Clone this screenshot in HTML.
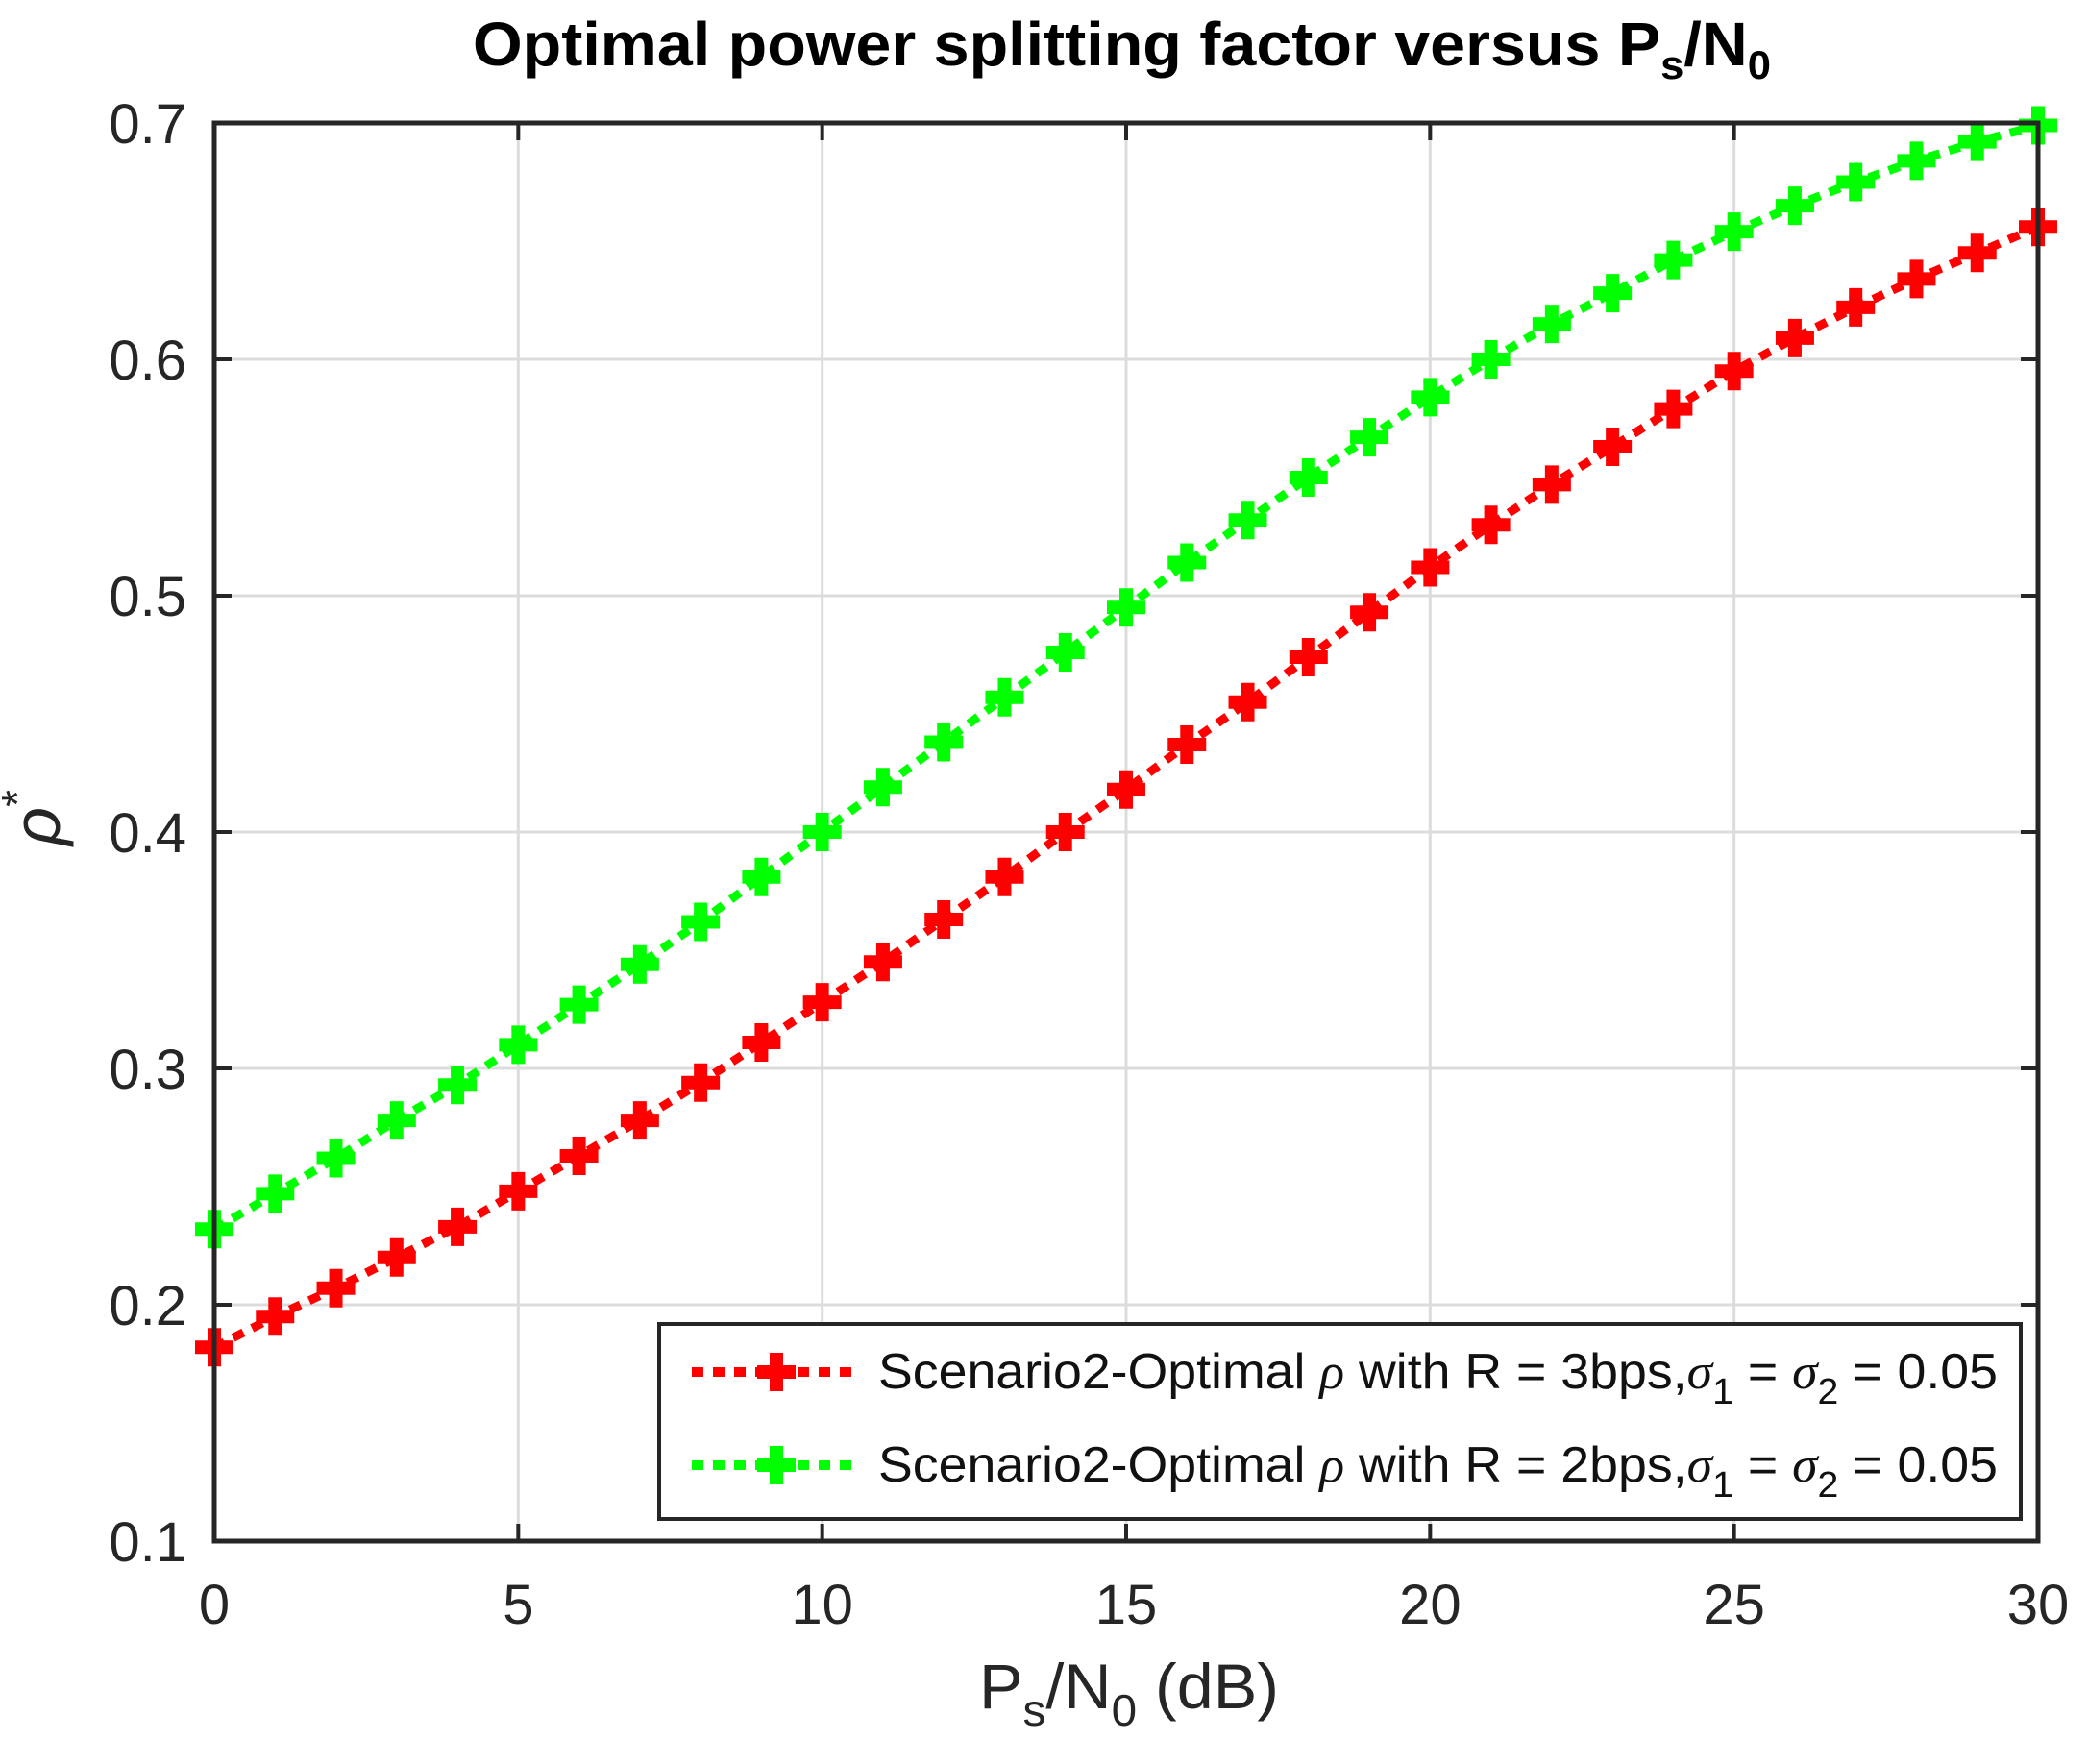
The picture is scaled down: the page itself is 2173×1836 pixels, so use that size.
<!DOCTYPE html>
<html><head><meta charset="utf-8"><style>html,body{margin:0;padding:0;background:#fff}svg{display:block}text{font-family:"Liberation Sans",sans-serif}</style></head>
<body>
<svg id="s" xmlns="http://www.w3.org/2000/svg" width="2173" height="1836" viewBox="0 0 2173 1836">
<rect width="2173" height="1836" fill="#fff"/>
<g id="grid" stroke="#dcdcdc" stroke-width="3"></g>
<g id="ticks" stroke="#262626" stroke-width="4"></g>
<g id="series"></g>
<rect x="223" y="128" width="1898" height="1476" fill="none" stroke="#262626" stroke-width="5"/>
<g id="labels" font-size="58" fill="#262626"></g>
<text x="492" y="68" font-size="64" font-weight="bold" fill="#000" textLength="1351" lengthAdjust="spacingAndGlyphs">Optimal power splitting factor versus P<tspan font-size="42" dy="14">s</tspan><tspan dy="-14">/N</tspan><tspan font-size="42" dy="14">0</tspan></text>
<text x="1019" y="1778" font-size="66" fill="#262626" textLength="312" lengthAdjust="spacingAndGlyphs">P<tspan font-size="46" dy="18">s</tspan><tspan dy="-18">/N</tspan><tspan font-size="46" dy="18">0</tspan><tspan dy="-18"> (dB)</tspan></text>
<text transform="translate(62,880) rotate(-90)" font-size="70" font-style="italic" fill="#262626" font-family="Liberation Serif">ρ<tspan font-size="46" dy="-28" font-style="normal">*</tspan></text>
<rect x="686" y="1378" width="1417" height="203" fill="#fff" stroke="#262626" stroke-width="4"/>
<g id="leg"></g>
<g font-size="52" fill="#111">
<text x="914" y="1445" textLength="1165" lengthAdjust="spacingAndGlyphs">Scenario2-Optimal <tspan font-family="Liberation Serif" font-style="italic">ρ</tspan> with R = 3bps,<tspan font-family="Liberation Serif" font-style="italic">σ</tspan><tspan font-size="38" dy="16">1</tspan><tspan dy="-16"> = </tspan><tspan font-family="Liberation Serif" font-style="italic">σ</tspan><tspan font-size="38" dy="16">2</tspan><tspan dy="-16"> = 0.05</tspan></text>
<text x="914" y="1542" textLength="1165" lengthAdjust="spacingAndGlyphs">Scenario2-Optimal <tspan font-family="Liberation Serif" font-style="italic">ρ</tspan> with R = 2bps,<tspan font-family="Liberation Serif" font-style="italic">σ</tspan><tspan font-size="38" dy="16">1</tspan><tspan dy="-16"> = </tspan><tspan font-family="Liberation Serif" font-style="italic">σ</tspan><tspan font-size="38" dy="16">2</tspan><tspan dy="-16"> = 0.05</tspan></text>
</g>
</svg>
<script>
var NS="http://www.w3.org/2000/svg";
function el(p,t,a){var e=document.createElementNS(NS,t);for(var k in a)e.setAttribute(k,a[k]);p.appendChild(e);return e;}
var L=223,R=2121,T=128,B=1604;
function X(x){return L+x*(R-L)/30}
function Y(v){return B-(v-0.1)*(B-T)/0.6}
var g=document.getElementById('grid'),tk=document.getElementById('ticks'),lb=document.getElementById('labels');
for(var i=0;i<=6;i++){var x=X(i*5);
 if(i>0&&i<6)el(g,'line',{x1:x,y1:T,x2:x,y2:B});
 el(tk,'line',{x1:x,y1:B,x2:x,y2:B-18});el(tk,'line',{x1:x,y1:T,x2:x,y2:T+18});
 var t=el(lb,'text',{x:x,y:1690,'text-anchor':'middle'});t.textContent=i*5;}
for(var j=1;j<=7;j++){var v=j/10,y=Y(v);
 if(j>1&&j<7)el(g,'line',{x1:L,y1:y,x2:R,y2:y});
 el(tk,'line',{x1:L,y1:y,x2:L+18,y2:y});el(tk,'line',{x1:R,y1:y,x2:R-18,y2:y});
 var t=el(lb,'text',{x:194,y:y+21,'text-anchor':'end'});t.textContent=v.toFixed(1);}
var red=[0.182,0.195,0.207,0.22,0.233,0.248,0.263,0.278,0.294,0.311,0.328,0.345,0.363,0.381,0.4,0.418,0.437,0.455,0.474,0.493,0.512,0.53,0.547,0.563,0.579,0.595,0.609,0.622,0.634,0.645,0.656];
var grn=[0.232,0.247,0.262,0.278,0.293,0.31,0.327,0.344,0.362,0.381,0.4,0.419,0.438,0.457,0.476,0.495,0.514,0.532,0.55,0.567,0.584,0.6,0.615,0.628,0.642,0.654,0.665,0.675,0.684,0.692,0.699];
var sg=document.getElementById('series');
function plus(p,x,y,c){el(p,'path',{d:'M'+(x-20)+' '+y+'H'+(x+20)+'M'+x+' '+(y-20)+'V'+(y+20),stroke:c,'stroke-width':14,fill:'none'});}
function series(d,c){var pts=d.map(function(v,i){return X(i)+','+Y(v)}).join(' ');
 el(sg,'polyline',{points:pts,fill:'none',stroke:c,'stroke-width':9,'stroke-dasharray':'12 10'});
 d.forEach(function(v,i){plus(sg,X(i),Y(v),c)});}
series(red,'#ff0000');series(grn,'#00ff00');
var lg=document.getElementById('leg');
[[1428,'#ff0000'],[1525,'#00ff00']].forEach(function(a){
 el(lg,'line',{x1:720,y1:a[0],x2:887,y2:a[0],stroke:a[1],'stroke-width':10,'stroke-dasharray':'12 10'});
 plus(lg,808,a[0],a[1]);});
</script>
</body></html>
